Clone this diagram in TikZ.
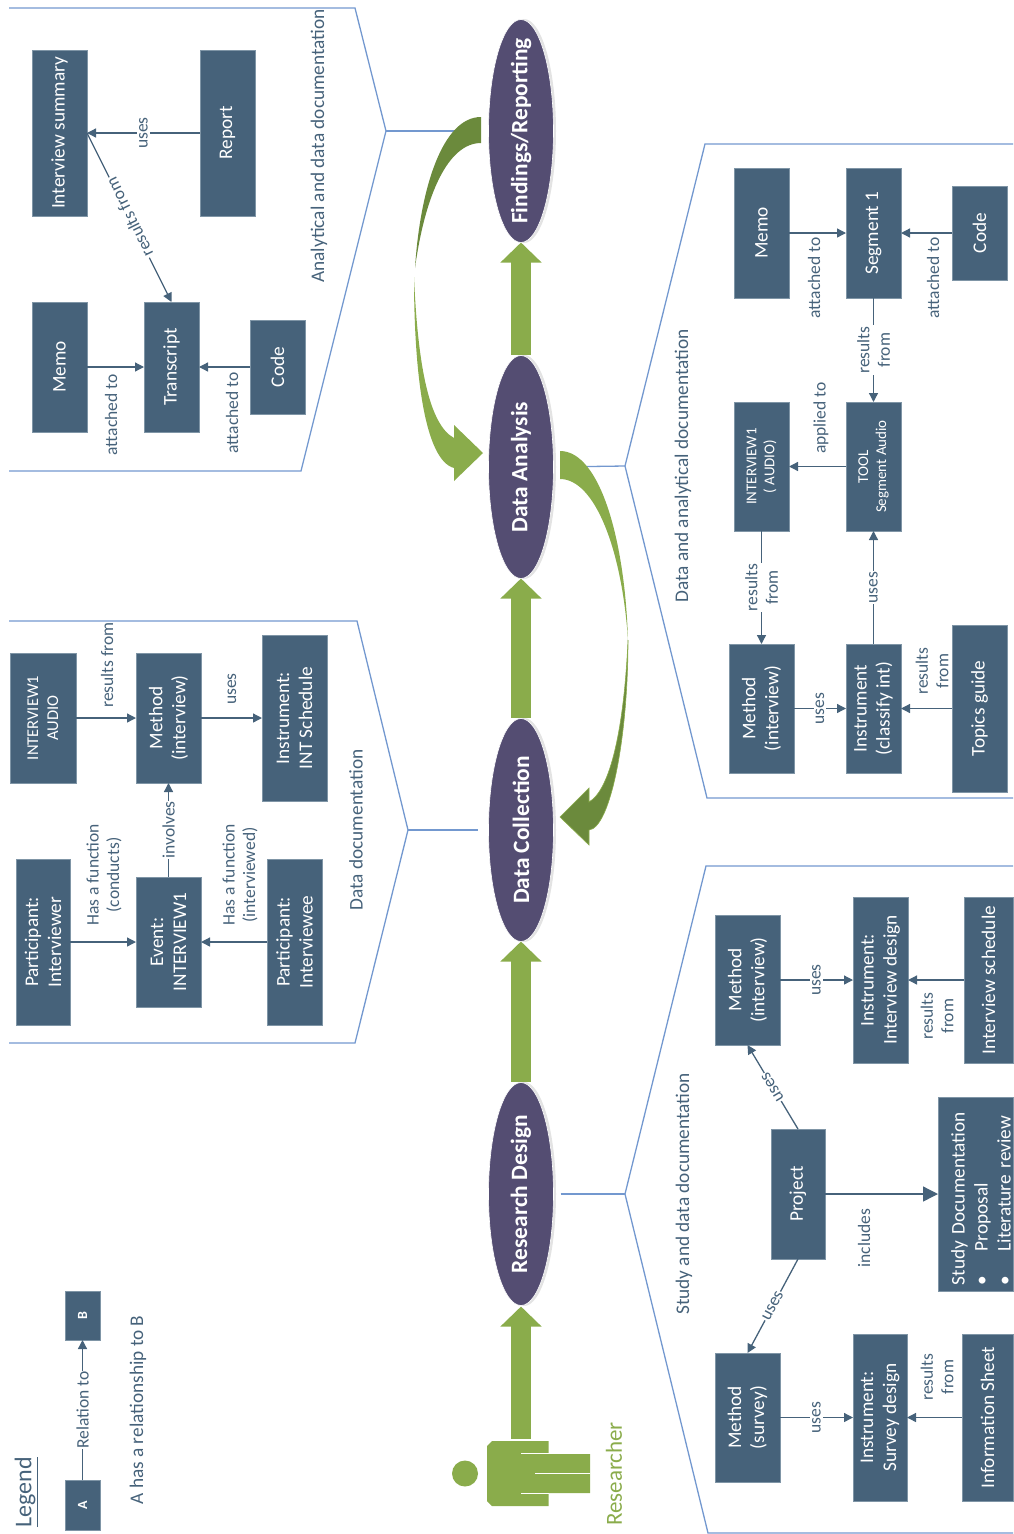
\documentclass[tikz,border=0pt]{standalone}
\usepackage{fontspec}
\setmainfont{Carlito}
\usetikzlibrary{arrows.meta,shapes.geometric}
\definecolor{boxc}{HTML}{46627A}
\definecolor{boxe}{HTML}{7F95A6}
\definecolor{brk}{HTML}{7398CF}
\definecolor{grn}{HTML}{8AAC4B}
\definecolor{dgrn}{HTML}{6B8A3C}
\definecolor{elc}{HTML}{544D72}
\tikzset{
  boxst/.style={rectangle,fill=boxc,draw=boxe,line width=.5pt,text=white,rotate=90,inner sep=0pt,outer sep=0pt,align=center,font=\fontsize{19.3}{23}\selectfont},
  conn/.style={draw=boxc,line width=1.3pt,-{Triangle[length=9pt,width=9pt]}},
  lbl/.style={rotate=90,text=boxc,inner sep=1pt,align=center,font=\fontsize{17.5}{20.5}\selectfont},
  ttl/.style={lbl,font=\fontsize{19.3}{23}\selectfont},
  lblf/.style={lbl,fill=white,inner sep=2pt},
  brkline/.style={draw=brk,line width=1.3pt},
  phase/.style={shape=ellipse,fill=elc,draw=white,line width=.6pt,rotate=90,minimum width=223pt,minimum height=65pt,inner sep=0pt,outer sep=0pt,text=white,font=\fontsize{23.4}{26}\selectfont\bfseries},
  fat/.style={draw=grn,line width=20pt,-{Triangle[length=20pt,width=40pt]},shorten >=0pt}
}
\newcommand{\bx}[6][]{\node[boxst,minimum width={(#5-#3)*1pt},minimum height={(#4-#2)*1pt},#1] (#6) at ({(#2+#4)/2},{(#3+#5)/2})}
\begin{document}
\begin{tikzpicture}[x=1pt,y=-1pt]
\useasboundingbox (0,0) rectangle (1013,1534);
% brackets
\coordinate (cfr) at (386,131);
\coordinate (cda) at (625,466);
\coordinate (cdc) at (408,830);
\coordinate (crd) at (625,1194);
\draw[brkline,line join=miter] (9,8) -- (355,8) -- (cfr) -- (301,471) -- (9,471);
\draw[brkline] (9,621) -- (357,621) -- (cdc) -- (355,1043) -- (9,1043);
\draw[brkline] (1013,144) -- (705,144) -- (cda) -- (707,798) -- (1013,798);
\draw[brkline] (1013,866) -- (706,866) -- (crd) -- (708,1533) -- (1013,1533);
% phases
\fill[gray!22] (524,131) ellipse [x radius=32pt,y radius=112pt];
\fill[gray!22] (524,467) ellipse [x radius=32pt,y radius=112pt];
\fill[gray!22] (524,830) ellipse [x radius=32pt,y radius=112pt];
\fill[gray!22] (524,1194) ellipse [x radius=32pt,y radius=112pt];
\node[phase] (fr) at (521,131) {\makebox[0pt]{Findings/Reporting}};
\node[phase] (da) at (521,467) {\makebox[0pt]{Data Analysis}};
\node[phase] (dc) at (521,830) {\makebox[0pt]{Data Collection}};
\node[phase] (rd) at (521,1194) {\makebox[0pt]{Research Design}};
% stubs
\draw[brkline,shorten >=15pt] (cfr) -- (fr.north);
\draw[brkline,shorten <=7pt] (da.south) -- (cda);
\draw[brkline,shorten <=11pt] (dc.north) -- (cdc);
\draw[brkline,shorten <=7pt] (rd.south) -- (crd);
% researcher
\fill[grn] (465,1473.5) circle [radius=13pt];
\fill[grn] (492,1441) -- (548.5,1441) -- (548.5,1454) -- (590,1454) -- (590,1493) -- (548.5,1493) -- (548.5,1506) -- (492,1506) -- (487,1501) -- (487,1446) -- cycle;
\draw[white,line width=1pt] (521,1453.5) -- (548.5,1453.5);
\draw[white,line width=1pt] (535,1473.5) -- (590,1473.5);
\draw[white,line width=1pt] (521,1493.5) -- (548.5,1493.5);
\coordinate (res) at (521,1439);
\coordinate (rdtip) at (521,1306.5);
\node[rotate=90,text=grn,inner sep=0pt,font=\fontsize{23}{27}\selectfont] (reslbl) at (614,1474) {Researcher};
% fat arrows
\draw[fat] (res) -- (rdtip);
\draw[fat,shorten <=1pt] (rd.east) -- (dc.west);
\draw[fat,shorten <=1pt] (dc.east) -- (da.west);
\draw[fat,shorten <=1pt] (da.east) -- (fr.west);
% curved arrows
\fill[dgrn] (481,117) .. controls (442,117) and (420,190) .. (415,268) .. controls (425,195) and (448,143) .. (481,143) -- cycle;
\fill[grn] (414,277) .. controls (414,370) and (424,460) .. (454,468) -- (454,481) -- (483,453) -- (454,425) -- (454,438) .. controls (430,425) and (418,370) .. (414,277) -- cycle;
\fill[grn] (560,451) .. controls (600,451) and (625,540) .. (628,640) .. controls (622,550) and (595,479) .. (560,479) -- cycle;
\fill[dgrn,draw=grn,line width=.6pt] (628,640) .. controls (628,740) and (610,828) .. (589,830) -- (589,845) -- (560,817) -- (589,788) -- (589,802) .. controls (610,790) and (624,730) .. (628,640) -- cycle;
% top-left group
\bx{32}{50}{87}{216}{summary}{Interview summary};
\bx{200}{50}{255}{216}{report}{Report};
\bx{32}{302}{87}{432}{memoa}{Memo};
\bx{144}{302}{199}{432}{trans}{Transcript};
\bx{250}{320}{305}{414}{codea}{Code};
\draw[conn] (report.north) -- node[lblf] (l1) {uses} (summary.south);
\draw[conn] (memoa.south) -- (trans.north);
\draw[conn] (codea.north) -- (trans.south);
\draw[conn] (summary.south) -- node[lblf,rotate=26.4] (l2) {results from} (trans.east);
\node[lbl] (l3) at (111,415) {attached to};
\node[lbl] (l4) at (232,413) {attached to};
\node[ttl] (t1) at (319,146) {Analytical and data documentation};
% mid-left group
\bx[font=\fontsize{16.5}{20}\selectfont]{10}{653}{76}{783}{audioa}{INTERVIEW1\\AUDIO};
\bx{136}{653}{201}{783}{methoda}{Method\\(interview)};
\bx{262}{635}{327}{801}{inta}{Instrument:\\INT Schedule};
\bx{16}{859}{70}{1025}{pera}{Participant:\\Interviewer};
\bx{136}{877}{201}{1007}{event}{Event:\\INTERVIEW1};
\bx{267}{859}{322}{1025}{perb}{Participant:\\Interviewee};
\draw[conn] (audioa.south) -- (methoda.north);
\draw[conn] (methoda.south) -- (inta.north);
\draw[conn] (pera.south) -- (event.north);
\draw[conn] (perb.north) -- (event.south);
\draw[conn] (event.east) -- node[lblf,inner sep=.5pt] (l5) {involves} (methoda.west);
\node[lbl] (l6) at (107,665) {results from};
\node[lbl] (l7) at (232,689) {uses};
\node[lbl] (l8) at (104,875) {Has a function\\(conducts)};
\node[lbl] (l9) at (240,875) {Has a function\\(interviewed)};
\node[ttl] (t2) at (356,830) {Data documentation};
% top-right group
\bx{734}{168}{789}{298}{memob}{Memo};
\bx{846}{168}{901}{298}{seg}{Segment 1};
\bx{952}{186}{1007}{280}{codeb}{Code};
\bx[font=\fontsize{15}{18}\selectfont]{734}{402}{789}{531}{audiob}{INTERVIEW1\\( AUDIO)};
\bx[font=\fontsize{15}{18}\selectfont]{846}{402}{901}{531}{tool}{TOOL\\Segment Audio};
\bx{729}{644}{794}{773}{methodb}{Method\\(interview)};
\bx{846}{644}{901}{773}{instb}{Instrument\\(classify int)};
\bx{952}{625}{1007}{792}{topics}{Topics guide};
\draw[conn] (memob.south) -- (seg.north);
\draw[conn] (codeb.north) -- (seg.south);
\draw[conn] (seg.west) -- node[lblf,inner sep=1pt] (l10) {results\\from} (tool.east);
\draw[conn] (tool.north) -- (audiob.south);
\draw[conn] (audiob.west) -- node[lblf,inner sep=1pt] (l11) {results\\from} (methodb.east);
\draw[conn] (instb.east) -- node[lblf,inner sep=1pt] (l12) {uses} (tool.west);
\draw[conn] (methodb.south) -- node[lblf] (l13) {uses} (instb.north);
\draw[conn] (topics.north) -- (instb.south);
\node[lbl] (l14) at (814,278) {attached to};
\node[lbl] (l15) at (933,278) {attached to};
\node[lbl] (l16) at (821,418) {applied to};
\node[lbl] (l17) at (932,671) {results\\from};
\node[ttl] (t3) at (683,466) {Data and analytical documentation};
% bottom-right group
\bx{715}{915}{780}{1045}{methodc}{Method\\(interview)};
\bx{853}{897}{908}{1063}{instc}{Instrument:\\Interview design};
\bx{964}{897}{1013}{1063}{sched}{\raisebox{-3pt}{Interview schedule}};
\bx{771}{1129}{825}{1259}{project}{Project};
\bx{938}{1097}{1013}{1291}{study}{};
\node[rotate=90,text=white,inner sep=0pt,align=left,text width=182pt,font=\fontsize{19.3}{23}\selectfont] (studytxt) at (981,1194) {Study Documentation\\\textbullet\hspace{24pt}Proposal\\\textbullet\hspace{24pt}Literature review};
\bx{715}{1353}{780}{1482}{methodd}{Method\\(survey)};
\bx{853}{1334}{907}{1501}{instd}{Instrument:\\Survey design};
\bx{962}{1334}{1013}{1501}{info}{\raisebox{-3pt}{Information Sheet}};
\draw[conn,-{Triangle[length=15pt,width=15pt]}] (project.south) -- (study.north);
\draw[conn] (project.east) -- node[lblf,rotate=31,inner sep=.5pt] (l18) {uses} (methodc.west);
\draw[conn] (project.west) -- node[lblf,rotate=-28,inner sep=.5pt] (l19) {uses} (methodd.east);
\draw[conn] (methodc.south) -- node[lblf] (l20) {uses} (instc.north);
\draw[conn] (methodd.south) -- node[lblf] (l21) {uses} (instd.north);
\draw[conn] (sched.north) -- (instc.south);
\draw[conn] (info.north) -- (instd.south);
\node[lbl] (l22) at (864,1238) {includes};
\node[lbl] (l23) at (937,1016) {results\\from};
\node[lbl] (l24) at (937,1377) {results\\from};
\node[ttl] (t4) at (684,1194) {Study and data documentation};
% legend
\node[rotate=90,text=boxc,inner sep=0pt,font=\fontsize{24}{28}\selectfont] (leg) at (26,1492) {\underline{Legend}};
\bx[font=\fontsize{14}{17}\selectfont\bfseries]{65}{1480}{100}{1530}{lega}{A};
\bx[font=\fontsize{14}{17}\selectfont\bfseries]{65}{1291}{100}{1340}{legb}{B};
\draw[conn] (lega.east) -- node[lblf,inner sep=.5pt] (l25) {Relation to} (legb.west);
\node[ttl] (l26) at (138,1410) {A has a relationship to B};
\end{tikzpicture}
\end{document}
